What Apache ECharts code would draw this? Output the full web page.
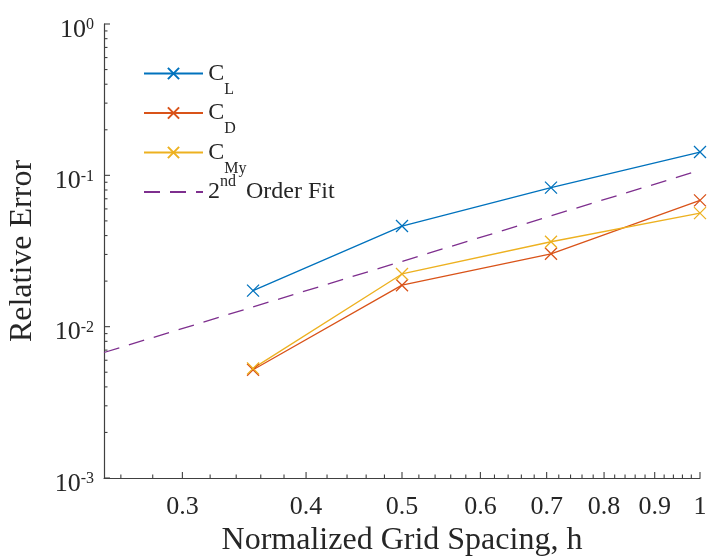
<!DOCTYPE html>
<html>
<head>
<meta charset="utf-8">
<script src="https://cdn.jsdelivr.net/npm/echarts@6/dist/echarts.min.js"></script>
<style>html,body{margin:0;padding:0;background:#fff;}#c{width:707px;height:558px;}</style>
</head>
<body>
<div id="c"></div>
<script>
// ---- data ----
var hValues = [0.3536, 0.5, 0.7071, 1.0];
var errCL  = [0.0173, 0.0462, 0.0829, 0.1426];
var errCD  = [0.00519, 0.0188, 0.0303, 0.0683];
var errCMy = [0.00530, 0.0223, 0.0364, 0.0563];
var fitH   = [0.25, 1.0];
var fitErr = [0.00675, 0.108];
var xTickLabels = [0.3, 0.4, 0.5, 0.6, 0.7, 0.8, 0.9, 1];
var xMinorTicks = [0.26, 0.28, 0.32, 0.34, 0.36, 0.38, 0.42, 0.44, 0.46, 0.48, 0.52, 0.54, 0.56, 0.58,
                   0.62, 0.64, 0.66, 0.68, 0.72, 0.74, 0.76, 0.78, 0.82, 0.84, 0.86, 0.88, 0.92, 0.94, 0.96, 0.98];
var yDecades = [0.001, 0.01, 0.1, 1];
var yMinorMult = [2, 3, 4, 5, 6, 7, 8, 9];

var X_MIN = 0.25, X_MAX = 1, Y_MIN = 0.001, Y_MAX = 1;
var FONT = '"Liberation Serif", "Times New Roman", serif';
var TXT = '#262626', AX = '#404040';
var XSYM = 'path://M0,0L10,10M10,0L0,10';

function pairs(xs, ys) { return xs.map(function (x, i) { return [x, ys[i]]; }); }

// tick items: [x, y, kind] kind 0=x major,1=x minor,2=y major,3=y minor
var tickData = [];
xTickLabels.forEach(function (v) { tickData.push([v, Y_MIN, 0]); });
xMinorTicks.forEach(function (v) { tickData.push([v, Y_MIN, 1]); });
yDecades.forEach(function (d, i) {
  tickData.push([X_MIN, d, 2]);
  if (i < yDecades.length - 1) yMinorMult.forEach(function (m) { tickData.push([X_MIN, d * m, 3]); });
});

var legendNames = {
  'CL': '{t| }{b|C}{sub|L}',
  'CD': '{t| }{b|C}{sub|D}',
  'CMy': '{t| }{b|C}{sub|My}',
  'fit': '{b|2}{sup|nd\u00a0}{b|\u00a0Order Fit}{sub| }'
};

function lineSeries(name, data, color) {
  return {
    name: name, type: 'line', data: data, color: color,
    symbol: XSYM, symbolSize: 12, showSymbol: true,
    lineStyle: { width: 1.3, color: color },
    itemStyle: { color: color, borderColor: color, borderWidth: 1.3 },
    animation: false, z: 3
  };
}

var chart = echarts.init(document.getElementById('c'), null, { renderer: 'canvas' });
chart.setOption({
  backgroundColor: '#fff',
  animation: false,
  grid: { left: 104, right: 7, top: 24, bottom: 80, containLabel: false, outerBoundsMode: 'none' },
  legend: {
    data: ['CL', 'CD', 'CMy', 'fit'],
    orient: 'vertical', left: 138, top: 44.5,
    itemWidth: 59, itemHeight: 14, itemGap: -8.5,
    formatter: function (n) { return legendNames[n]; },
    textStyle: {
      color: TXT, fontFamily: FONT,
      rich: {
        t: { fontSize: 1, fontFamily: FONT, color: TXT, lineHeight: 1, verticalAlign: 'top' },
        b: { fontSize: 24, fontFamily: FONT, color: TXT, lineHeight: 48 },
        sub: { fontSize: 16, fontFamily: FONT, color: TXT, lineHeight: 6, verticalAlign: 'bottom' },
        sup: { fontSize: 16, fontFamily: FONT, color: TXT, lineHeight: 16, height: 28, verticalAlign: 'top' }
      }
    },
    selectedMode: false
  },
  xAxis: {
    type: 'log', logBase: 10, min: X_MIN, max: X_MAX,
    name: 'Normalized Grid Spacing, h', nameLocation: 'middle', nameGap: 41,
    nameTextStyle: { fontFamily: FONT, fontSize: 32, color: TXT },
    axisLine: { show: true, lineStyle: { color: AX, width: 1.2 } },
    axisTick: { show: false },
    splitLine: { show: false },
    minorTick: { show: false },
    axisLabel: {
      customValues: xTickLabels,
      fontFamily: FONT, fontSize: 26, color: TXT, margin: 16,
      formatter: function (v) { return String(Math.round(v * 10) / 10); }
    }
  },
  yAxis: {
    type: 'log', logBase: 10, min: Y_MIN, max: Y_MAX, interval: 1,
    name: 'Relative Error', nameLocation: 'middle', nameGap: 65,
    nameTextStyle: { fontFamily: FONT, fontSize: 32, color: TXT },
    axisLine: { show: true, lineStyle: { color: AX, width: 1.2 } },
    axisTick: { show: false },
    splitLine: { show: false },
    minorTick: { show: false },
    axisLabel: {
      margin: 10, padding: [12, 0, 0, 0],
      formatter: function (v) { return '{b|10}{sup|' + Math.round(Math.log10(v)) + '}'; },
      rich: {
        b: { fontSize: 26, fontFamily: FONT, color: TXT, lineHeight: 26 },
        sup: { fontSize: 16, fontFamily: FONT, color: TXT, lineHeight: 12, verticalAlign: 'top' }
      }
    }
  },
  series: [
    lineSeries('CL', pairs(hValues, errCL), '#0072BD'),
    lineSeries('CD', pairs(hValues, errCD), '#D95319'),
    lineSeries('CMy', pairs(hValues, errCMy), '#EDB120'),
    {
      name: 'fit', type: 'line', data: pairs(fitH, fitErr), color: '#7E2F8E',
      symbol: XSYM, showSymbol: false, symbolSize: 0,
      itemStyle: { color: 'rgba(0,0,0,0)', borderColor: 'rgba(0,0,0,0)', borderWidth: 0 },
      lineStyle: { width: 1.3, type: [16, 10], color: '#7E2F8E' },
      animation: false, z: 2
    },
    {
      name: 'ticks', type: 'custom', data: tickData, silent: true, z: 5, clip: false,
      encode: { x: 0, y: 1 },
      renderItem: function (params, api) {
        var x = api.value(0), y = api.value(1), k = api.value(2);
        var p = api.coord([x, y]);
        var s;
        if (k === 0) s = { x1: p[0], y1: p[1], x2: p[0], y2: p[1] - 6 };
        else if (k === 1) s = { x1: p[0], y1: p[1], x2: p[0], y2: p[1] - 3.5 };
        else if (k === 2) s = { x1: p[0], y1: p[1], x2: p[0] + 6, y2: p[1] };
        else s = { x1: p[0], y1: p[1], x2: p[0] + 3.5, y2: p[1] };
        return { type: 'line', shape: s, style: { stroke: AX, lineWidth: 1.1 } };
      }
    }
  ]
});
</script>
</body>
</html>
